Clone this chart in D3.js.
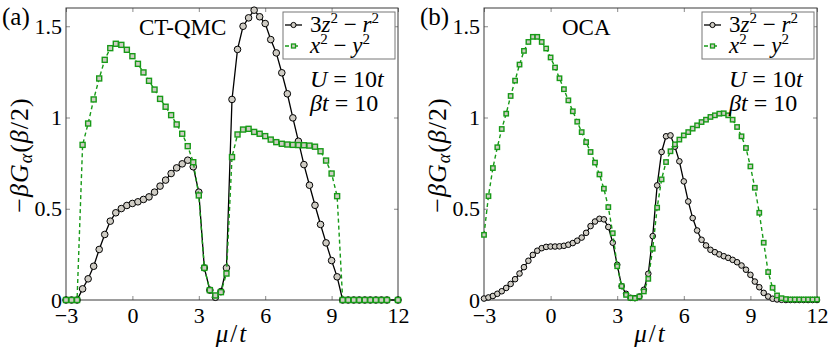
<!DOCTYPE html>
<html>
<head>
<meta charset="utf-8">
<script src="https://cdn.jsdelivr.net/npm/d3@7"></script>
<style>
  body { margin: 0; background: #fff; }
</style>
</head>
<body>
<div id="container"></div>
<script>
// Tick labels
const ticksX = [-3, 0, 3, 6, 9, 12];
const ticksY = [0, 0.5, 1, 1.5];

// Panel (a): CT-QMC, mu/t grid and the two orbitals
const muQMC = [-3, -2.75, -2.5, -2.25, -2, -1.75, -1.5, -1.25, -1, -0.75, -0.5, -0.25,
    0, 0.25, 0.5, 0.75, 1, 1.25, 1.5, 1.75, 2, 2.25, 2.5, 2.75,
    3, 3.25, 3.5, 3.75, 4, 4.25, 4.5, 4.75, 5, 5.25, 5.5, 5.75,
    6, 6.25, 6.5, 6.75, 7, 7.25, 7.5, 7.75, 8, 8.25, 8.5, 8.75,
    9, 9.25, 9.5, 9.75, 10, 10.25, 10.5, 10.75, 11, 11.25, 11.5, 12];
const z2QMC = [0, 0, 0, 0.061, 0.116, 0.185, 0.277, 0.359, 0.432, 0.478, 0.501, 0.518,
    0.529, 0.538, 0.551, 0.565, 0.591, 0.624, 0.657, 0.693, 0.724, 0.746, 0.766, 0.730,
    0.591, 0.176, 0.054, 0.015, 0.046, 0.176, 1.099, 1.373, 1.500, 1.546, 1.588, 1.552,
    1.515, 1.427, 1.354, 1.245, 1.130, 0.998, 0.870, 0.742, 0.629, 0.519, 0.414, 0.313,
    0.216, 0.127, 0, 0, 0, 0, 0, 0, 0, 0, 0, 0];
const x2QMC = [0, 0, 0, 0.850, 0.967, 1.099, 1.214, 1.316, 1.380, 1.404, 1.398, 1.371,
    1.336, 1.294, 1.247, 1.201, 1.153, 1.102, 1.059, 1.013, 0.962, 0.911, 0.843, 0.755,
    0.573, 0.176, 0.054, 0.025, 0.043, 0.145, 0.783, 0.907, 0.934, 0.938, 0.921, 0.911,
    0.898, 0.879, 0.865, 0.856, 0.852, 0.850, 0.849, 0.848, 0.846, 0.840, 0.815, 0.764,
    0.693, 0.569, 0, 0, 0, 0, 0, 0, 0, 0, 0, 0];

// Panel (b): OCA
const muOCA = [-3, -2.8, -2.6, -2.4, -2.2, -2, -1.8, -1.6, -1.4, -1.2, -1, -0.8, -0.6, -0.4, -0.2,
    0, 0.2, 0.4, 0.6, 0.8, 1, 1.2, 1.4, 1.6, 1.8, 2, 2.2, 2.4, 2.6, 2.8,
    3, 3.2, 3.4, 3.6, 3.8, 4, 4.2, 4.4, 4.6, 4.8, 5, 5.2, 5.4, 5.6, 5.8,
    6, 6.2, 6.4, 6.6, 6.8, 7, 7.2, 7.4, 7.6, 7.8, 8, 8.2, 8.4, 8.6, 8.8,
    9, 9.2, 9.4, 9.6, 9.8, 10, 10.2, 10.4, 10.6, 10.8, 11, 11.2, 11.4, 11.6, 11.8, 12];
const z2OCA = [0.008, 0.014, 0.022, 0.034, 0.048, 0.066, 0.088, 0.114, 0.145, 0.180, 0.215, 0.247, 0.270, 0.284, 0.291,
    0.293, 0.293, 0.294, 0.297, 0.303, 0.312, 0.325, 0.342, 0.368, 0.405, 0.430, 0.445, 0.442, 0.400, 0.314,
    0.193, 0.076, 0.034, 0.012, 0.010, 0.019, 0.056, 0.144, 0.350, 0.628, 0.811, 0.897, 0.902, 0.840, 0.760,
    0.650, 0.540, 0.449, 0.381, 0.330, 0.299, 0.275, 0.262, 0.250, 0.240, 0.231, 0.220, 0.207, 0.189, 0.166,
    0.138, 0.101, 0.070, 0.039, 0.019, 0.007, 0.003, 0.001, 0, 0, 0, 0, 0, 0, 0, 0];
const x2OCA = [0.357, 0.569, 0.723, 0.837, 0.937, 1.021, 1.118, 1.202, 1.290, 1.365, 1.414, 1.442, 1.442, 1.414, 1.378,
    1.329, 1.274, 1.215, 1.155, 1.094, 1.034, 0.977, 0.920, 0.865, 0.811, 0.753, 0.688, 0.610, 0.509, 0.366,
    0.185, 0.076, 0.028, 0.012, 0.010, 0.019, 0.047, 0.116, 0.281, 0.506, 0.661, 0.756, 0.815, 0.853, 0.879,
    0.902, 0.920, 0.939, 0.957, 0.975, 0.988, 1.003, 1.012, 1.021, 1.023, 1.012, 0.988, 0.948, 0.897, 0.833,
    0.732, 0.615, 0.478, 0.314, 0.153, 0.067, 0.025, 0.010, 0.005, 0.003, 0.003, 0.003, 0.003, 0.003, 0.003, 0.003];

const green = "#179a17";
const markerFill = "#cfccc4";
const serif = "'Liberation Serif'";

const svg = d3.select("#container")
    .append("svg")
    .attr("width", 831)
    .attr("height", 354)
    .attr("font-family", serif);

const plotTop = 8, plotBottom = 300;

// text built from pieces: [string, italic?, dy, size]
function mathText(sel, parts) {
    parts.forEach(([s, it, dy, size]) => {
        const t = sel.append("tspan").text(s);
        if (it) t.attr("font-style", "italic");
        if (dy) t.attr("dy", dy);
        if (size) t.attr("font-size", size);
    });
    return sel;
}

function drawPanel(p) {
    const g = svg.append("g");
    const x = d3.scaleLinear().domain([-3, 12]).range([p.left, p.right]);
    const y = d3.scaleLinear().domain([0, 1.6]).range([plotBottom, plotTop]);

    // axes, ticks pointing inward on all four sides
    const axB = g.append("g").attr("transform", `translate(0,${plotBottom})`)
        .call(d3.axisBottom(x).tickValues(ticksX).tickSize(-4).tickPadding(7));
    const axT = g.append("g").attr("transform", `translate(0,${plotTop})`)
        .call(d3.axisTop(x).tickValues(ticksX).tickSize(-4).tickFormat(""));
    const axL = g.append("g").attr("transform", `translate(${p.left},0)`)
        .call(d3.axisLeft(y).tickValues(ticksY).tickSize(-4).tickPadding(4).tickFormat(d3.format("")));
    const axR = g.append("g").attr("transform", `translate(${p.right},0)`)
        .call(d3.axisRight(y).tickValues(ticksY).tickSize(-4).tickFormat(""));
    [axB, axT, axL, axR].forEach(a => {
        a.attr("font-family", null).attr("font-size", 22);
        a.select(".domain").remove();
        a.selectAll(".tick line").attr("stroke", "#8a8a8a");
        a.selectAll("text").attr("fill", "#000");
    });

    g.append("rect")
        .attr("x", p.left).attr("y", plotTop)
        .attr("width", p.right - p.left).attr("height", plotBottom - plotTop)
        .attr("fill", "none").attr("stroke", "#3a3a3a").attr("stroke-width", 1);

    const line = d3.line().x(d => x(d[0])).y(d => y(d[1]));
    const zPts = p.mu.map((m, i) => [m, p.z2[i]]);
    const xPts = p.mu.map((m, i) => [m, p.x2[i]]);

    g.append("path").datum(zPts).attr("d", line)
        .attr("fill", "none").attr("stroke", "#000").attr("stroke-width", 1.3);
    g.selectAll("circle.z2").data(zPts).enter().append("circle")
        .attr("class", "z2")
        .attr("cx", d => x(d[0])).attr("cy", d => y(d[1])).attr("r", p.r)
        .attr("fill", markerFill).attr("stroke", "#000").attr("stroke-width", 1);

    g.append("path").datum(xPts).attr("d", line)
        .attr("fill", "none").attr("stroke", green).attr("stroke-width", 1.4)
        .attr("stroke-dasharray", "4,3");
    g.selectAll("rect.x2").data(xPts).enter().append("rect")
        .attr("class", "x2")
        .attr("x", d => x(d[0]) - p.s / 2).attr("y", d => y(d[1]) - p.s / 2)
        .attr("width", p.s).attr("height", p.s)
        .attr("fill", markerFill).attr("stroke", green).attr("stroke-width", 1.4);

    // legend
    const lx = p.right - 115, ly = 12;
    const leg = g.append("g");
    leg.append("rect").attr("x", lx).attr("y", ly).attr("width", 112).attr("height", 47)
        .attr("fill", "#fff").attr("stroke", "#777").attr("stroke-width", 1);
    leg.append("line").attr("x1", lx + 2).attr("x2", lx + 19).attr("y1", ly + 13).attr("y2", ly + 13)
        .attr("stroke", "#000").attr("stroke-width", 1.3);
    leg.append("circle").attr("cx", lx + 10.5).attr("cy", ly + 13).attr("r", 2.6)
        .attr("fill", markerFill).attr("stroke", "#000");
    leg.append("line").attr("x1", lx + 2).attr("x2", lx + 19).attr("y1", ly + 34).attr("y2", ly + 34)
        .attr("stroke", green).attr("stroke-width", 1.4).attr("stroke-dasharray", "4,5");
    leg.append("rect").attr("x", lx + 8.5).attr("y", ly + 32).attr("width", 4).attr("height", 4)
        .attr("fill", markerFill).attr("stroke", green).attr("stroke-width", 1.3);

    mathText(leg.append("text").attr("x", lx + 27).attr("y", ly + 20).attr("font-size", 23),
        [["3"], ["z", true], ["2", false, -9, 15], [" − ", false, 9], ["r", true], ["2", false, -9, 15]]);
    mathText(leg.append("text").attr("x", lx + 27).attr("y", ly + 41).attr("font-size", 23),
        [["x", true], ["2", false, -9, 15], [" − ", false, 9], ["y", true], ["2", false, -9, 15]]);

    // parameters
    mathText(g.append("text").attr("x", p.right - 88).attr("y", 87).attr("font-size", 24),
        [["U", true], [" = 10"], ["t", true]]);
    mathText(g.append("text").attr("x", p.right - 88).attr("y", 111).attr("font-size", 24),
        [["βt", true], [" = 10"]]);

    // method name and panel label
    g.append("text").attr("x", p.nameX).attr("y", 35).attr("font-size", 23).text(p.name);
    g.append("text").attr("x", p.left - 64).attr("y", 25).attr("font-size", 25).text(p.tag);

    // axis titles
    mathText(g.append("text").attr("x", (p.left + p.right) / 2).attr("y", 342)
        .attr("text-anchor", "middle").attr("font-size", 25).attr("letter-spacing", 2),
        [["μ", true], ["/"], ["t", true]]);

    mathText(g.append("text")
        .attr("transform", `translate(${p.left - 38},155) rotate(-90)`)
        .attr("text-anchor", "middle").attr("font-size", 26).attr("letter-spacing", 1),
        [["−"], ["βG", true], ["α", true, 4, 18], ["(", false, -4], ["β", true], ["/2)"]]);
}

drawPanel({ left: 66, right: 398, mu: muQMC, z2: z2QMC, x2: x2QMC, r: 3.3, s: 5,
    name: "CT-QMC", nameX: 139, tag: "(a)" });
drawPanel({ left: 484, right: 817, mu: muOCA, z2: z2OCA, x2: x2OCA, r: 2.8, s: 4.4,
    name: "OCA", nameX: 562, tag: "(b)" });
</script>
</body>
</html>
